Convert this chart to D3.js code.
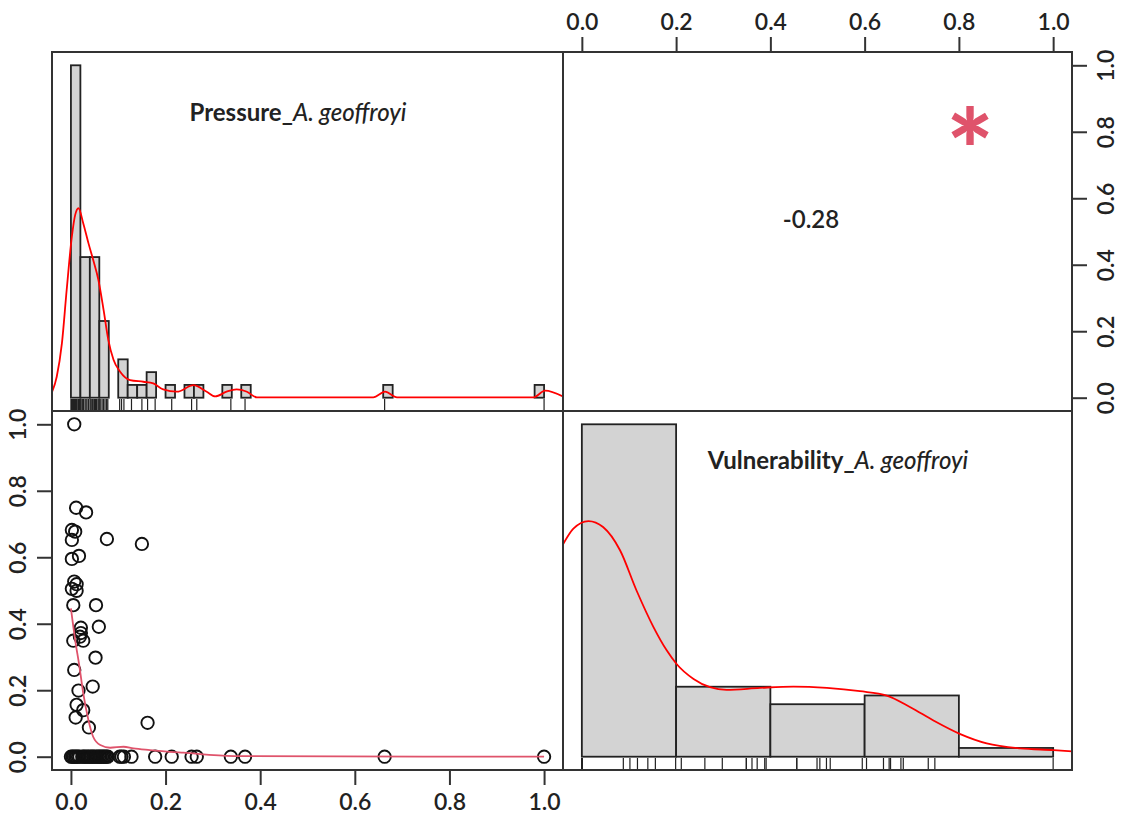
<!DOCTYPE html>
<html>
<head>
<meta charset="utf-8">
<script src="https://cdn.jsdelivr.net/npm/d3@7"></script>
<style>
  body { margin: 0; background: #fff; }
  text { font-family: Lato, "Open Sans", sans-serif; fill: #222; }
</style>
</head>
<body>
<div id="chart"></div>
<script>
// ---- data ----
const tickValues = [0, 0.2, 0.4, 0.6, 0.8, 1.0];

// histogram counts, Pressure (bins of 0.02 from 0 to 1)
const pressureBinWidth = 0.02;
const pressureCounts = [26, 11, 11, 6, 0, 3, 1, 1, 2, 0,
                        1, 0, 1, 1, 0, 0, 1, 0, 1, 0,
                        0, 0, 0, 0, 0, 0, 0, 0, 0, 0,
                        0, 0, 0, 1, 0, 0, 0, 0, 0, 0,
                        0, 0, 0, 0, 0, 0, 0, 0, 0, 1];

// histogram counts, Vulnerability (bins of 0.2 from 0 to 1)
const vulnBinWidth = 0.2;
const vulnCounts = [38, 8, 6, 7, 1];

// scatter points: pressure (x) vs vulnerability (y)
const pressure = [0.007, 0.011, 0.032, 0.002, 0.009, 0.002, 0.076, 0.150, 0.002, 0.017,
                  0.007, 0.012, 0.002, 0.012, 0.005, 0.053, 0.021, 0.059, 0.005, 0.019,
                  0.026, 0.021, 0.052, 0.007, 0.046, 0.016, 0.012, 0.026, 0.010, 0.038,
                  0.162,
                  0.000, 0.003, 0.006, 0.009, 0.012, 0.015, 0.018, 0.024, 0.027, 0.030,
                  0.034, 0.037, 0.041, 0.044, 0.047, 0.050, 0.054, 0.057, 0.060, 0.063,
                  0.066, 0.069, 0.072, 0.075, 0.078, 0.103, 0.107, 0.112, 0.128, 0.178,
                  0.213, 0.255, 0.266, 0.338, 0.368, 0.663, 1.000];
const vulnerability = [1.000, 0.749, 0.735, 0.682, 0.677, 0.652, 0.655, 0.640, 0.595, 0.604,
                       0.527, 0.519, 0.505, 0.499, 0.456, 0.456, 0.388, 0.391, 0.349, 0.361,
                       0.349, 0.372, 0.298, 0.261, 0.211, 0.199, 0.156, 0.140, 0.118, 0.088,
                       0.102,
                       0, 0, 0, 0, 0, 0, 0, 0, 0, 0,
                       0, 0, 0, 0, 0, 0, 0, 0, 0, 0,
                       0, 0, 0, 0, 0, 0, 0, 0, 0, 0,
                       0, 0, 0, 0, 0, 0, 0];

// density curves (y relative to the tallest bar)
const pressureDensity = [[-0.041, 0.013], [-0.030, 0.063], [-0.019, 0.164], [-0.009, 0.324],
  [0.002, 0.485], [0.009, 0.550], [0.016, 0.570], [0.026, 0.525], [0.037, 0.465],
  [0.047, 0.415], [0.058, 0.355], [0.069, 0.264], [0.079, 0.174], [0.090, 0.114],
  [0.104, 0.078], [0.125, 0.053], [0.153, 0.048], [0.174, 0.043], [0.195, 0.025],
  [0.224, 0.018], [0.259, 0.038], [0.287, 0.018], [0.305, 0.004], [0.329, 0.018],
  [0.350, 0.025], [0.372, 0.018], [0.393, 0.001], [0.639, 0.001], [0.664, 0.018],
  [0.689, 0.001], [0.978, 0.001], [1.002, 0.021], [1.040, 0.004]];

const vulnDensity = [[-0.043, 0.631], [-0.018, 0.686], [0.014, 0.709], [0.045, 0.691],
  [0.081, 0.621], [0.116, 0.500], [0.152, 0.390], [0.180, 0.320], [0.201, 0.279],
  [0.237, 0.234], [0.272, 0.209], [0.307, 0.201], [0.378, 0.207], [0.449, 0.211],
  [0.520, 0.207], [0.590, 0.197], [0.647, 0.184], [0.697, 0.149], [0.746, 0.109],
  [0.803, 0.068], [0.859, 0.040], [0.930, 0.025], [1.001, 0.020], [1.043, 0.016]];

// smoother through the scatter
const smooth = [[0.000, 0.446], [0.009, 0.351], [0.018, 0.271], [0.026, 0.191],
  [0.037, 0.110], [0.047, 0.060], [0.062, 0.035], [0.083, 0.027], [0.111, 0.030],
  [0.132, 0.025], [0.167, 0.020], [0.238, 0.012], [0.344, 0.002], [1.000, 0.000]];

const correlation = "-0.28";
const signif = "*";

// ---- layout ----
const width = 1121, height = 818;
const x0 = 52, x1 = 563, x2 = 1072;
const y0 = 52, y1 = 411, y2 = 770;
const pad = [-0.04, 1.04];

const xL = d3.scaleLinear().domain(pad).range([x0, x1]);
const xR = d3.scaleLinear().domain(pad).range([x1, x2]);
const yT = d3.scaleLinear().domain(pad).range([y1, y0]);
const yB = d3.scaleLinear().domain(pad).range([y2, y1]);

const svg = d3.select('#chart').append('svg')
  .attr('width', width)
  .attr('height', height)
  .attr('viewBox', [0, 0, width, height]);

const panels = [
  {id: 'tl', x: x0, y: y0, w: x1 - x0, h: y1 - y0},
  {id: 'tr', x: x1, y: y0, w: x2 - x1, h: y1 - y0},
  {id: 'bl', x: x0, y: y1, w: x1 - x0, h: y2 - y1},
  {id: 'br', x: x1, y: y1, w: x2 - x1, h: y2 - y1},
];

svg.append('defs').selectAll('clipPath')
  .data(panels)
  .join('clipPath')
  .attr('id', d => `clip-${d.id}`)
    .append('rect')
    .attr('x', d => d.x).attr('y', d => d.y)
    .attr('width', d => d.w).attr('height', d => d.h);

function histogram(counts, binWidth, x, y, clip) {
  const max = d3.max(counts);
  const g = svg.append('g').attr('clip-path', `url(#clip-${clip})`);
  g.selectAll('rect')
    .data(counts)
    .join('rect')
      .attr('x', (d, i) => x(i * binWidth))
      .attr('width', (d, i) => x((i + 1) * binWidth) - x(i * binWidth))
      .attr('y', d => y(d / max))
      .attr('height', d => y(0) - y(d / max))
      .attr('fill', '#d3d3d3')
      .attr('stroke', '#222')
      .attr('stroke-width', 1.8);
  return g;
}

function rug(values, x, base) {
  svg.append('g')
    .attr('stroke', '#222')
    .attr('stroke-width', 1.2)
    .selectAll('line')
    .data(values)
    .join('line')
      .attr('x1', d => x(d)).attr('x2', d => x(d))
      .attr('y1', base).attr('y2', base - 12);
}

function curve(points, x, y, color, clip, w) {
  svg.append('path')
    .attr('clip-path', `url(#clip-${clip})`)
    .attr('d', d3.line().x(d => x(d[0])).y(d => y(d[1])).curve(d3.curveMonotoneX)(points))
    .attr('fill', 'none')
    .attr('stroke', color)
    .attr('stroke-width', w);
}

// top-left: Pressure histogram
histogram(pressureCounts, pressureBinWidth, xL, yT, 'tl');
curve(pressureDensity, xL, yT, '#ff0000', 'tl', 1.8);
rug(pressure, xL, y1);

// bottom-right: Vulnerability histogram
histogram(vulnCounts, vulnBinWidth, xR, yB, 'br');
curve(vulnDensity, xR, yB, '#ff0000', 'br', 1.8);
rug(vulnerability, xR, y2);

// bottom-left: scatter
svg.append('g')
  .attr('fill', 'none')
  .attr('stroke', '#111')
  .attr('stroke-width', 1.9)
  .selectAll('circle')
  .data(pressure.map((p, i) => [p, vulnerability[i]]))
  .join('circle')
    .attr('cx', d => xL(d[0]))
    .attr('cy', d => yB(d[1]))
    .attr('r', 6.2);
curve(smooth, xL, yB, '#DF536B', 'bl', 1.8);

// top-right: correlation
svg.append('text')
  .attr('x', 811).attr('y', 228)
  .attr('text-anchor', 'middle')
  .attr('font-size', 24)
  .attr('font-weight', 600)
  .text(correlation);
svg.append('text')
  .attr('x', 970).attr('y', 192)
  .attr('text-anchor', 'middle')
  .attr('font-size', 112)
  .attr('font-weight', 900)
  .style('fill', '#DF536B')
  .text(signif);

// variable names
function label(x, y, main) {
  const t = svg.append('text')
    .attr('x', x).attr('y', y)
    .attr('text-anchor', 'middle')
    .attr('font-size', 24);
  t.append('tspan').attr('font-weight', 700).text(main + '_');
  t.append('tspan').attr('font-style', 'italic').attr('font-weight', 500).text('A. geoffroyi');
}
label(298, 121, 'Pressure');
label(838, 469, 'Vulnerability');

// panel boxes
svg.append('g')
  .selectAll('rect')
  .data(panels)
  .join('rect')
    .attr('x', d => d.x).attr('y', d => d.y)
    .attr('width', d => d.w).attr('height', d => d.h)
    .attr('fill', 'none')
    .attr('stroke', '#333')
    .attr('stroke-width', 2);

// axes
const fmt = d3.format('.1f');
function styleAxis(g) {
  g.select('.domain').remove();
  g.selectAll('.tick line').attr('stroke', '#333').attr('stroke-width', 2);
  g.selectAll('.tick text')
    .attr('font-size', 23)
    .attr('font-weight', 600)
    .attr('font-family', 'Lato, sans-serif')
    .attr('fill', '#222');
}

svg.append('g')
  .attr('transform', `translate(0,${y0})`)
  .call(d3.axisTop(xR).tickValues(tickValues).tickSize(15).tickPadding(7).tickFormat(fmt))
  .call(styleAxis);

svg.append('g')
  .attr('transform', `translate(0,${y2})`)
  .call(d3.axisBottom(xL).tickValues(tickValues).tickSize(15).tickPadding(9).tickFormat(fmt))
  .call(styleAxis);

svg.append('g')
  .attr('transform', `translate(${x0},0)`)
  .call(d3.axisLeft(yB).tickValues(tickValues).tickSize(15).tickFormat(fmt))
  .call(styleAxis)
  .call(g => g.selectAll('.tick text')
    .attr('transform', 'rotate(-90)')
    .attr('x', 0).attr('y', -34).attr('dy', '0.35em')
    .attr('text-anchor', 'middle'));

svg.append('g')
  .attr('transform', `translate(${x2},0)`)
  .call(d3.axisRight(yT).tickValues(tickValues).tickSize(15).tickFormat(fmt))
  .call(styleAxis)
  .call(g => g.selectAll('.tick text')
    .attr('transform', 'rotate(-90)')
    .attr('x', 0).attr('y', 34).attr('dy', '0.35em')
    .attr('text-anchor', 'middle'));
</script>
</body>
</html>
